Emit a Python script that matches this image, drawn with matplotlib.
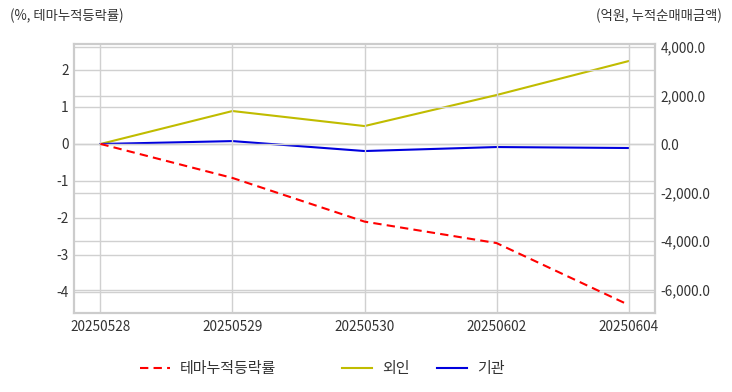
import matplotlib
matplotlib.use("Agg")
import matplotlib.pyplot as plt
from matplotlib.ticker import FuncFormatter

plt.rcParams['font.family'] = ['Noto Sans CJK KR', 'DejaVu Sans']

dates = ["20250528", "20250529", "20250530", "20250602", "20250604"]
theme_rate = [0.0, -0.92, -2.10, -2.68, -4.35]
foreign = [0.0, 1360.0, 740.0, 2020.0, 3420.0]
institution = [0.0, 120.0, -290.0, -125.0, -165.0]

left_ticks = [2, 1, 0, -1, -2, -3, -4]
right_ticks = [4000, 2000, 0, -2000, -4000, -6000]

txt = "#333333"
grid = "#d0d0d0"

fig = plt.figure(figsize=(7.32, 3.92), dpi=100)
ax = fig.add_axes([74/732, 1-313/392, (655-74)/732, (313-44)/392])
ax2 = ax.twinx()

x = list(range(len(dates)))
l1, = ax.plot(x, theme_rate, color="#ff0000", ls=(0, (4, 2.5)), lw=1.5, label="테마누적등락률")
l2, = ax2.plot(x, foreign, color="#c0bc00", lw=1.5, label="외인")
l3, = ax2.plot(x, institution, color="#0000dd", lw=1.5, label="기관")

ax.set_xlim(-0.2, 4.2)
ax.set_ylim(-4.57, 2.70)
ax2.set_ylim(-6969, 4124)

ax.set_xticks(x)
ax.set_xticklabels(dates)
ax.set_yticks(left_ticks)
ax.set_yticklabels([str(v) for v in left_ticks])
ax2.set_yticks(right_ticks)
ax2.yaxis.set_major_formatter(FuncFormatter(lambda v, p: f"{v:,.1f}"))

ax.grid(True, color=grid, lw=1)
ax2.grid(True, axis="y", color=grid, lw=1)
ax.set_axisbelow(True)
ax2.set_axisbelow(True)
ax.set_zorder(ax2.get_zorder() + 1)
ax.patch.set_visible(False)

for a in (ax, ax2):
    for s in a.spines.values():
        s.set_color("#cccccc")
        s.set_linewidth(1.5)
    a.tick_params(length=0, labelsize=9.8, colors=txt, pad=4)
ax.tick_params(axis="x", pad=5)

fig.text(10/732, 1-16/392, "(%, 테마누적등락률)", fontsize=9.6, color=txt, va="center", ha="left")
fig.text(722/732, 1-16/392, "(억원, 누적순매매금액)", fontsize=9.6, color=txt, va="center", ha="right")

for handle, xpos in ((l1, 140), (l2, 342), (l3, 437)):
    fig.legend(handles=[handle], loc="center left", bbox_to_anchor=(xpos/732, 1-369/392),
               frameon=False, fontsize=10.8, labelcolor=txt, handlelength=2.0,
               handletextpad=0.65, borderpad=0, borderaxespad=0)

fig.savefig("out.png", dpi=100)
